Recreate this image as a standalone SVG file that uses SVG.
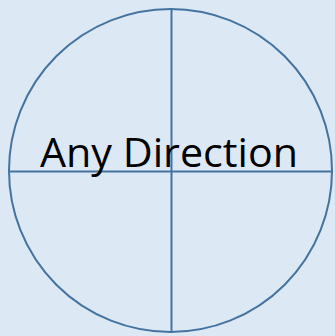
<svg xmlns="http://www.w3.org/2000/svg" width="335" height="336" viewBox="0 0 335 336">
<style>
.ln{stroke:#44739f;stroke-width:2;fill:none}
.lbl{font-family:"Open Sans","Liberation Sans",sans-serif;font-size:41px;fill:#000}
</style>
<rect width="335" height="336" fill="#dde8f5"/>
<g id="circle">
<circle cx="170.5" cy="170.5" r="161.5" fill="#fff" class="ln"/>
</g>
<g id="connectors">
<line x1="171.5" y1="9" x2="171.5" y2="332" class="ln"/>
<line x1="9" y1="171.5" x2="332" y2="171.5" class="ln"/>
</g>
<g id="label">
<text class="lbl" x="40" y="167" textLength="258" lengthAdjust="spacingAndGlyphs">Any Direction</text>
</g>
</svg>
